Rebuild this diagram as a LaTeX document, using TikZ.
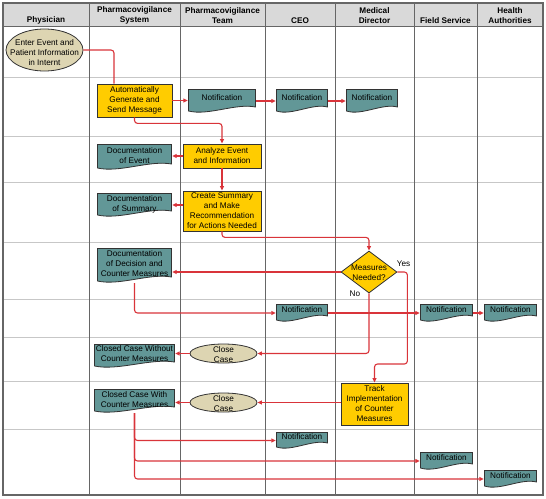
\documentclass[tikz,border=0pt]{standalone}
\usepackage{fontspec}
\setmainfont{Liberation Sans}
\usetikzlibrary{shapes.geometric,arrows.meta,calc}

\definecolor{procfill}{HTML}{FFCC00}
\definecolor{docfill}{HTML}{629797}
\definecolor{termfill}{HTML}{DDD5B2}
\definecolor{flowred}{HTML}{D9343A}
\definecolor{headfill}{HTML}{D9D9D9}
\definecolor{shapeline}{HTML}{333333}

\newcommand{\lanefont}{\fontsize{8.2}{10}\selectfont}
\newcommand{\squeezed}[2][-3pt]{\smash{\raisebox{#1}{\makebox[0pt]{\begin{tabular}{@{}c@{}}#2\end{tabular}}}}}

\tikzset{
	head/.style={font=\lanefont\bfseries, align=center, anchor=south, inner sep=1pt},
	proc/.style={rectangle, draw=shapeline, fill=procfill, line width=0.8pt, align=center, inner sep=1pt},
	term/.style={ellipse, draw=shapeline, fill=termfill, line width=0.8pt, inner sep=0pt},
	decide/.style={diamond, draw=shapeline, fill=procfill, line width=0.8pt, inner sep=0pt},
	docu/.style={rectangle, inner sep=0pt, path picture={
		\draw[fill=docfill, draw=shapeline, line width=0.8pt]
			let \p1=(path picture bounding box.north west), \p2=(path picture bounding box.south east) in
			(\x1+0.5pt,\y1-0.5pt) -- (\x2-0.5pt,\y1-0.5pt) -- (\x2-0.5pt,\y2+6pt)
			.. controls (0.3*\x1+0.7*\x2,\y2+10pt) and (0.7*\x1+0.3*\x2,\y2-3pt) .. (\x1+0.5pt,\y2+2pt) -- cycle;
	}},
	flow/.style={draw=flowred, line width=1.1pt, rounded corners=3pt, -{Triangle[length=4.5pt,width=4pt]}},
	laneline/.style={draw=black!60, line width=1pt},
	rowline/.style={draw=black!22, line width=1pt}
}

\begin{document}
\begin{tikzpicture}[x=1pt, y=-1pt, font=\lanefont]
	\useasboundingbox (0,0) rectangle (546,498);

	\fill[headfill] (3,3) rectangle (543,26);
	\foreach \y in {77,136,182,242,299,337,381,429} \draw[rowline] (3,\y) -- (543,\y);
	\foreach \x in {89,180,265,335,414,477} \draw[laneline] (\x,3) -- (\x,495);
	\draw[laneline] (3,26) -- (543,26);
	\draw[laneline, line width=1.2pt] (3,3) rectangle (543,495);

	\node[head] (physician) at (46,25) {Physician};
	\node[head] (pvsystem) at (134.5,25) {Pharmacovigilance\\System};
	\node[head] (pvteam) at (222.5,25) {Pharmacovigilance\\Team};
	\node[head] (ceo) at (300,25) {CEO};
	\node[head] (meddir) at (374.5,25) {Medical\\Director};
	\node[head] (fieldsvc) at (445.5,25) {Field Service};
	\node[head] (health) at (510,25) {Health\\Authorities};

	\node[term, minimum width=77, minimum height=42] (enter) at (44.5,50) {\squeezed[-5pt]{Enter Event and\\Patient Information\\in Internt}};
	\node[proc, minimum width=75, minimum height=33] (generate) at (134.5,100.5) {Automatically\\Generate and\\Send Message};
	\node[docu, minimum width=68, minimum height=24] (notepvt) at (222,101) {\squeezed[1pt]{Notification}};
	\node[docu, minimum width=52, minimum height=24] (noteceo) at (302,101) {\squeezed[1pt]{Notification}};
	\node[docu, minimum width=52, minimum height=24] (notemd) at (372,101) {\squeezed[1pt]{Notification}};
	\node[docu, minimum width=75, minimum height=26] (docevent) at (134.5,157) {\squeezed[-1pt]{Documentation\\of Event}};
	\node[proc, minimum width=78, minimum height=24] (analyze) at (222,156) {Analyze Event\\and Information};
	\node[docu, minimum width=75, minimum height=24] (docsummary) at (134.5,205) {\squeezed[-1pt]{Documentation\\of Summary}};
	\node[proc, minimum width=78, minimum height=40] (summary) at (222,211) {Create Summary\\and Make\\Recommendation\\for Actions Needed};
	\node[docu, minimum width=75, minimum height=35] (docdecision) at (134.5,265.5) {\squeezed[-1pt]{Documentation\\of Decision and\\Counter Measures}};
	\node[decide, minimum width=56, minimum height=42] (measures) at (369,272) {\squeezed{Measures\\Needed?}};
	\node[docu, minimum width=52, minimum height=18] (noteceob) at (302,313) {\squeezed[1pt]{Notification}};
	\node[docu, minimum width=53, minimum height=18] (notefs) at (446.5,313) {\squeezed[1pt]{Notification}};
	\node[docu, minimum width=53, minimum height=18] (noteha) at (510.5,313) {\squeezed[1pt]{Notification}};
	\node[docu, minimum width=81, minimum height=24] (closedwo) at (134.5,356) {\squeezed[-0.5pt]{Closed Case Without\\Counter Measures}};
	\node[term, minimum width=67, minimum height=19] (closeone) at (223.5,353.5) {\squeezed[-3.5pt]{Close\\Case}};
	\node[docu, minimum width=81, minimum height=24] (closedw) at (134.5,401) {\squeezed[-1pt]{Closed Case With\\Counter Measures}};
	\node[term, minimum width=67, minimum height=19] (closetwo) at (223.5,402.5) {\squeezed[-3.5pt]{Close\\Case}};
	\node[proc, minimum width=67, minimum height=42] (track) at (374.5,404) {Track\\Implementation\\of Counter\\Measures};
	\node[docu, minimum width=52, minimum height=17] (noteceoc) at (302,440.5) {\squeezed[1pt]{Notification}};
	\node[docu, minimum width=53, minimum height=18] (notefsb) at (446.5,461) {\squeezed[1pt]{Notification}};
	\node[docu, minimum width=53, minimum height=18] (notehab) at (510.5,479) {\squeezed[1pt]{Notification}};

	\draw[flow, -] (enter.east) -| ([xshift=-20.5pt]generate.north);
	\draw[flow] (generate.east) -- (generate.east -| notepvt.west);
	\draw[flow] (notepvt.east) -- (noteceo.west);
	\draw[flow] (noteceo.east) -- (notemd.west);
	\draw[flow] (generate.south) -- ++(0,6) -| (analyze.north);
	\draw[flow] (analyze.west) -- (analyze.west -| docevent.east);
	\draw[flow] (analyze.south) -- (summary.north);
	\draw[flow] (docsummary.east -| summary.west) -- (docsummary.east);
	\draw[flow] (summary.south) -- ++(0,6) -| (measures.north);
	\draw[flow] (measures.west) -- (measures.west -| docdecision.east);
	\draw[flow] (docdecision.south) |- (noteceob.west);
	\draw[flow] (noteceob.east) -- (notefs.west);
	\draw[flow] (notefs.east) -- (noteha.west);
	\draw[flow] (measures.south) node[left=5pt] (no) {No} |- (closeone.east);
	\draw[flow] (measures.east) node[anchor=south west, xshift=-4.5pt, yshift=1.5pt] (yes) {Yes} -| ++(10,92) -| (track.north);
	\draw[flow] (closeone.west) -- (closeone.west -| closedwo.east);
	\draw[flow] (track.west |- closetwo.east) -- (closetwo.east);
	\draw[flow] (closetwo.west) -- (closetwo.west -| closedw.east);
	\draw[flow] (closedw.south) |- (noteceoc.west);
	\draw[flow] (closedw.south) |- (notefsb.west);
	\draw[flow] (closedw.south) |- (notehab.west);
\end{tikzpicture}
\end{document}
